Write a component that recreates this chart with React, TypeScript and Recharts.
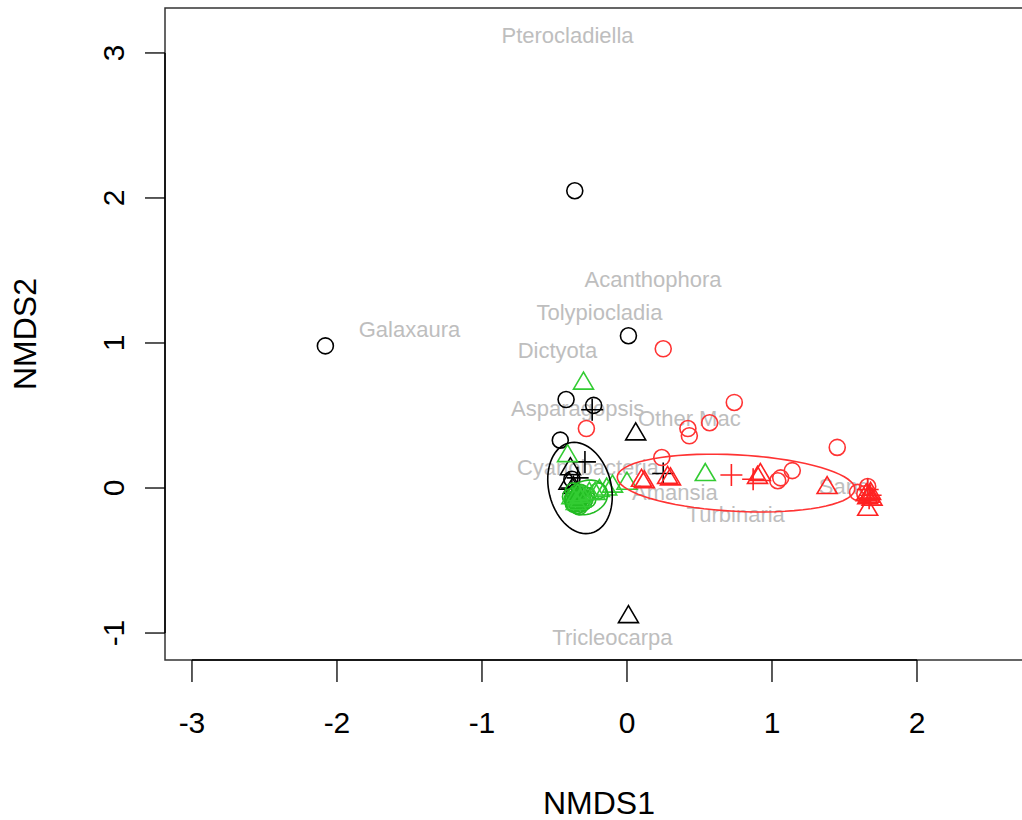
import React from 'react';
import { ScatterChart, Scatter, XAxis, YAxis, ReferenceArea, ReferenceLine } from 'recharts';

const xTicks = [-3, -2, -1, 0, 1, 2];
const yTicks = [-1, 0, 1, 2, 3];

const blackCircles = [
  { x: -0.36, y: 2.05 }, { x: -2.08, y: 0.98 }, { x: 0.01, y: 1.05 }, { x: -0.42, y: 0.61 },
  { x: -0.23, y: 0.57 }, { x: -0.46, y: 0.33 }, { x: -0.38, y: 0.06 }, { x: -0.36, y: -0.03 },
];
const blackTriangles = [
  { x: 0.06, y: 0.38 }, { x: 0.01, y: -0.88 }, { x: -0.39, y: 0.14 }, { x: -0.37, y: 0.01 },
  { x: -0.4, y: 0.04 },
];
const blackPluses = [
  { x: -0.24, y: 0.54 }, { x: -0.29, y: 0.18 }, { x: -0.34, y: 0.07 }, { x: 0.25, y: 0.1 },
  { x: -0.38, y: 0.0 },
];
const greenCircles = [
  { x: -0.36, y: -0.05 }, { x: -0.33, y: -0.08 }, { x: -0.31, y: -0.06 }, { x: -0.35, y: -0.1 },
  { x: -0.32, y: -0.03 }, { x: -0.38, y: -0.08 }, { x: -0.3, y: -0.1 }, { x: -0.34, y: -0.12 },
  { x: -0.28, y: -0.05 }, { x: -0.37, y: -0.02 }, { x: -0.2, y: -0.02 }, { x: -0.34, y: -0.06 },
  { x: -0.36, y: -0.09 }, { x: -0.31, y: -0.09 }, { x: -0.33, y: -0.04 }, { x: -0.29, y: -0.08 },
  { x: -0.35, y: -0.07 }, { x: -0.32, y: -0.11 }, { x: -0.37, y: -0.11 }, { x: -0.3, y: -0.04 },
  { x: -0.34, y: -0.09 }, { x: -0.33, y: -0.13 }, { x: -0.27, y: -0.08 }, { x: -0.39, y: -0.06 },
];
const greenTriangles = [
  { x: -0.3, y: 0.73 }, { x: -0.41, y: 0.23 }, { x: 0.54, y: 0.1 }, { x: 0.0, y: 0.04 },
  { x: -0.1, y: 0.02 }, { x: -0.19, y: -0.01 }, { x: -0.26, y: -0.03 }, { x: -0.32, y: -0.08 },
  { x: -0.38, y: -0.06 }, { x: -0.14, y: 0.0 }, { x: -0.35, y: -0.1 }, { x: -0.31, y: -0.05 },
  { x: -0.22, y: -0.03 }, { x: -0.34, y: -0.04 },
];
const redCircles = [
  { x: 0.25, y: 0.96 }, { x: 0.74, y: 0.59 }, { x: -0.28, y: 0.41 }, { x: 0.42, y: 0.41 },
  { x: 0.43, y: 0.36 }, { x: 0.57, y: 0.45 }, { x: 0.24, y: 0.21 }, { x: 1.45, y: 0.28 },
  { x: 1.14, y: 0.12 }, { x: 1.06, y: 0.07 }, { x: 1.04, y: 0.05 }, { x: 1.59, y: -0.03 },
  { x: 1.66, y: 0.01 }, { x: 1.64, y: -0.04 },
];
const redTriangles = [
  { x: 0.1, y: 0.06 }, { x: 0.12, y: 0.05 }, { x: 0.28, y: 0.08 }, { x: 0.3, y: 0.07 },
  { x: 0.92, y: 0.1 }, { x: 0.9, y: 0.08 }, { x: 1.38, y: 0.01 },
  { x: 1.66, y: -0.06 }, { x: 1.68, y: -0.03 }, { x: 1.67, y: -0.05 }, { x: 1.69, y: -0.07 },
  { x: 1.65, y: -0.04 }, { x: 1.66, y: -0.14 },
];
const redPluses = [
  { x: 0.72, y: 0.09 }, { x: 0.87, y: 0.06 }, { x: 1.68, y: -0.05 }, { x: 1.66, y: -0.01 },
  { x: 1.67, y: -0.07 },
];

const speciesLabels = [
  { x: -0.41, y: 3.12, name: 'Pterocladiella' },
  { x: 0.18, y: 1.44, name: 'Acanthophora' },
  { x: -0.19, y: 1.21, name: 'Tolypiocladia' },
  { x: -1.5, y: 1.09, name: 'Galaxaura' },
  { x: -0.48, y: 0.95, name: 'Dictyota' },
  { x: -0.34, y: 0.55, name: 'Asparagopsis' },
  { x: 0.43, y: 0.48, name: 'Other Mac' },
  { x: -0.27, y: 0.14, name: 'Cyanobacteria' },
  { x: 0.33, y: -0.03, name: 'Amansia' },
  { x: 0.75, y: -0.18, name: 'Turbinaria' },
  { x: 1.5, y: 0.01, name: 'Sand' },
  { x: -0.1, y: -1.03, name: 'Tricleocarpa' },
];

// ellipse centre, semi axes and angle (degrees), in data units
const ellipses = [
  { cx: -0.324, cy: 0.0, a: 0.32, b: 0.215, angle: 104, color: '#000000' },
  { cx: -0.28, cy: -0.065, a: 0.15, b: 0.115, angle: 20, color: '#22bb22' },
  { cx: 0.752, cy: 0.034, a: 0.82, b: 0.195, angle: -3, color: '#ff3333' },
];

const xDomain = [-3.186, 2.8];
const yDomain = [-1.186, 3.31];
const FONT = '"Liberation Sans", Arial, Helvetica, sans-serif';

const outline = (e) => {
  const pts = [];
  const t = (e.angle * Math.PI) / 180;
  for (let i = 0; i <= 72; i++) {
    const u = (i / 72) * 2 * Math.PI;
    const px = e.a * Math.cos(u);
    const py = e.b * Math.sin(u);
    pts.push({ x: e.cx + px * Math.cos(t) - py * Math.sin(t), y: e.cy + px * Math.sin(t) + py * Math.cos(t) });
  }
  return pts;
};

const circle = (color) => (p) => (
  <circle cx={p.cx} cy={p.cy} r={8} fill="none" stroke={color} strokeWidth={1.6} />
);
const triangle = (color) => (p) => (
  <polygon
    points={`${p.cx},${p.cy - 10} ${p.cx - 10},${p.cy + 7} ${p.cx + 10},${p.cy + 7}`}
    fill="none"
    stroke={color}
    strokeWidth={1.6}
  />
);
const plus = (color) => (p) => (
  <path d={`M${p.cx - 11},${p.cy}H${p.cx + 11}M${p.cx},${p.cy - 11}V${p.cy + 11}`} stroke={color} strokeWidth={1.6} />
);
const speciesText = (p) => (
  <text x={p.cx} y={p.cy} textAnchor="middle" dominantBaseline="central" fontSize={22} fill="#bebebe" fontFamily={FONT}>
    {p.payload.name}
  </text>
);
const noDot = () => <g />;

const YTick = (props) => {
  const { x, y, payload } = props;
  return (
    <text x={x} y={y} transform={`rotate(-90, ${x}, ${y})`} textAnchor="middle" fontSize={30} fill="#000" fontFamily={FONT}>
      {payload.value}
    </text>
  );
};

export default function App() {
  return (
    <div style={{ position: 'absolute', left: 0, top: 0, width: 1022, height: 820, overflow: 'hidden', background: '#fff' }}>
      <ScatterChart width={1033} height={820} margin={{ top: 8, right: 0, bottom: 0, left: 0 }}>
        <XAxis
          type="number"
          dataKey="x"
          domain={xDomain}
          ticks={xTicks}
          allowDataOverflow
          axisLine={false}
          tickLine={{ stroke: '#000', strokeWidth: 1.3 }}
          tickSize={22}
          tickMargin={30}
          height={160}
          tick={{ fontSize: 30, fill: '#000', fontFamily: FONT }}
          label={{ value: 'NMDS1', position: 'insideBottom', offset: 6, fontSize: 32, fill: '#000', fontFamily: FONT }}
        />
        <YAxis
          type="number"
          dataKey="y"
          domain={yDomain}
          ticks={yTicks}
          allowDataOverflow
          axisLine={false}
          tickLine={{ stroke: '#000', strokeWidth: 1.3 }}
          tickSize={20}
          tickMargin={21}
          width={165}
          tick={<YTick />}
          label={{
            content: (lp) => {
              const vb = lp.viewBox;
              const cx = 36;
              const cy = vb.y + vb.height / 2;
              return (
                <text x={cx} y={cy} transform={`rotate(-90, ${cx}, ${cy})`} textAnchor="middle" fontSize={32} fill="#000" fontFamily={FONT}>
                  NMDS2
                </text>
              );
            },
          }}
        />
        <ReferenceArea x1={xDomain[0]} x2={xDomain[1]} y1={yDomain[0]} y2={yDomain[1]} fill="none" stroke="#333" strokeWidth={1.5} />
        <ReferenceLine segment={[{ x: -3, y: yDomain[0] }, { x: 2, y: yDomain[0] }]} stroke="#000" strokeWidth={1.5} />
        <ReferenceLine segment={[{ x: xDomain[0], y: -1 }, { x: xDomain[0], y: 3 }]} stroke="#000" strokeWidth={1.5} />
        <Scatter data={speciesLabels} shape={speciesText} isAnimationActive={false} />
        <Scatter data={blackCircles} shape={circle('#000')} isAnimationActive={false} />
        <Scatter data={blackTriangles} shape={triangle('#000')} isAnimationActive={false} />
        <Scatter data={blackPluses} shape={plus('#000')} isAnimationActive={false} />
        <Scatter data={greenCircles} shape={circle('#22bb22')} isAnimationActive={false} />
        <Scatter data={greenTriangles} shape={triangle('#33cc33')} isAnimationActive={false} />
        <Scatter data={redCircles} shape={circle('#ff3333')} isAnimationActive={false} />
        <Scatter data={redTriangles} shape={triangle('#ff2222')} isAnimationActive={false} />
        <Scatter data={redPluses} shape={plus('#ff2222')} isAnimationActive={false} />
        {ellipses.map((e, i) => (
          <Scatter
            key={i}
            data={outline(e)}
            shape={noDot}
            line={{ stroke: e.color, strokeWidth: 1.6 }}
            lineJointType="linear"
            isAnimationActive={false}
          />
        ))}
      </ScatterChart>
    </div>
  );
}
